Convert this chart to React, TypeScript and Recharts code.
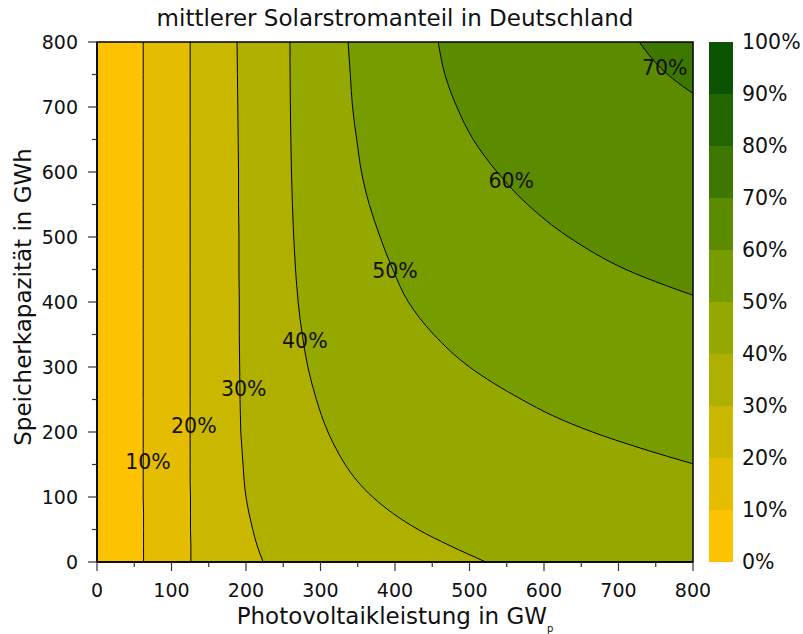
import React from 'react';
import {
  ComposedChart,
  Area,
  XAxis,
  YAxis,
  ReferenceArea,
  ReferenceDot,
  BarChart,
  Bar,
} from 'recharts';

const FONT = '"DejaVu Sans", Verdana, sans-serif';

// storage capacity (GWh) grid along which contour positions (PV GWp) are read
const yLevels = [0, 25, 50, 75, 100, 125, 150, 175, 200, 225, 250, 300, 350, 400, 450, 500, 550, 600, 650, 700, 750, 800];

// contour positions: PV power (GWp) at which the mean solar share reaches the level
const c10 = [62.5, 62.5, 62.5, 62.5, 62, 62, 62, 62, 62, 62, 62, 62, 62, 62, 62, 62, 62, 62, 62, 62, 62, 62];
const c20 = [126, 126, 125.5, 125.5, 125.5, 125, 125, 125, 125, 125, 125, 125, 125, 125, 125, 125, 125, 125, 125, 125, 125, 125];
const c30 = [223, 215, 209, 204, 200, 197.5, 196, 194.5, 193, 192.5, 192, 191.5, 191, 191, 190.5, 190.5, 190, 190, 189.5, 189, 188.5, 188];
const c40 = [522, 474, 431, 397, 370, 349, 333, 320.5, 310, 301.5, 294.5, 283, 275.5, 270, 266.5, 264, 262.3, 261, 260.2, 259.6, 259.2, 259];
const c50 = [1430, 1300, 1180, 1070, 970, 880, 803, 730, 665, 612, 570, 500, 452, 418, 397, 380, 365.5, 355, 348.6, 343, 340, 337];
const c60 = [2060, 1970, 1880, 1790, 1700, 1610, 1530, 1450, 1370, 1295, 1220, 1080, 950, 825, 710, 633, 578, 537, 505, 483, 467, 458];
const c70 = [2810, 2720, 2630, 2540, 2450, 2360, 2270, 2180, 2090, 2005, 1920, 1760, 1610, 1470, 1340, 1220, 1110, 1010, 920, 830, 766, 728];

const levelKeys = ['c70', 'c60', 'c50', 'c40', 'c30', 'c20', 'c10'];
const bandColors = ['#FEC300', '#E5BD00', '#C9B700', '#AFAF00', '#94A800', '#779C00', '#5C8B00', '#3D7700', '#236600', '#0A5300'];

const xTicks = [0, 50, 100, 150, 200, 250, 300, 350, 400, 450, 500, 550, 600, 650, 700, 750, 800];
const yTicks = [0, 50, 100, 150, 200, 250, 300, 350, 400, 450, 500, 550, 600, 650, 700, 750, 800];
const cbTicks = [0, 10, 20, 30, 40, 50, 60, 70, 80, 90, 100];

const contourLabels = [
  { x: 68.5, y: 155, text: '10%' },
  { x: 130, y: 209, text: '20%' },
  { x: 197, y: 266, text: '30%' },
  { x: 279, y: 340, text: '40%' },
  { x: 400, y: 448, text: '50%' },
  { x: 556, y: 586, text: '60%' },
  { x: 762, y: 760, text: '70%' },
];

const data = yLevels.map((y, i) => ({
  y,
  bg: 900,
  c70: c70[i],
  c60: c60[i],
  c50: c50[i],
  c40: c40[i],
  c30: c30[i],
  c20: c20[i],
  c10: c10[i],
}));

const cbData = [
  { name: 'cb', b0: 10, b1: 10, b2: 10, b3: 10, b4: 10, b5: 10, b6: 10, b7: 10, b8: 10, b9: 10 },
];

const XTick = (props: any) => {
  const { x, y, payload } = props;
  const v = payload.value;
  const major = v % 100 === 0;
  return (
    <g>
      <line x1={x} x2={x} y1={y} y2={y + (major ? 9 : 5)} stroke="#333" strokeWidth={1.2} />
      {major && (
        <text x={x} y={y + 35} textAnchor="middle" fontSize={19} fontFamily={FONT} fill="#111">
          {v}
        </text>
      )}
    </g>
  );
};

const YTick = (props: any) => {
  const { x, y, payload } = props;
  const v = payload.value;
  const major = v % 100 === 0;
  return (
    <g>
      <line x1={x - (major ? 9 : 5)} x2={x} y1={y} y2={y} stroke="#333" strokeWidth={1.2} />
      {major && (
        <text x={x - 19} y={y + 7} textAnchor="end" fontSize={19} fontFamily={FONT} fill="#111">
          {v}
        </text>
      )}
    </g>
  );
};

export default function App() {
  return (
    <div style={{ position: 'absolute', left: 0, top: 0, width: 803, height: 634, background: '#fff' }}>
      <svg width={803} height={40} style={{ position: 'absolute', left: 0, top: 0 }}>
        <text x={395} y={26} textAnchor="middle" fontSize={23} fontFamily={FONT} fill="#111">
          mittlerer Solarstromanteil in Deutschland
        </text>
      </svg>
      <svg width={60} height={634} style={{ position: 'absolute', left: 0, top: 0 }}>
        <text
          x={31}
          y={297}
          transform="rotate(-90 31 297)"
          textAnchor="middle"
          fontSize={23}
          fontFamily={FONT}
          fill="#111"
        >
          Speicherkapazität in GWh
        </text>
      </svg>
      <svg width={803} height={40} style={{ position: 'absolute', left: 0, top: 594 }}>
        <text x={395} y={30} textAnchor="middle" fontSize={23} fontFamily={FONT} fill="#111">
          Photovoltaikleistung in GW
          <tspan fontSize={10} dy={8}>p</tspan>
        </text>
      </svg>
      <div style={{ position: 'absolute', left: 0, top: 0 }}>
        <ComposedChart
          width={803}
          height={634}
          layout="vertical"
          data={data}
          margin={{ top: 42, right: 110, bottom: 42, left: 37 }}
        >
          <XAxis
            type="number"
            domain={[0, 800]}
            allowDataOverflow
            ticks={xTicks}
            interval={0}
            tickSize={0}
            tickMargin={0}
            tickLine={false}
            tick={<XTick />}
            height={30}
            axisLine={{ stroke: '#000', strokeWidth: 1.5 }}
          />
          <YAxis
            type="number"
            dataKey="y"
            domain={[0, 800]}
            allowDataOverflow
            reversed
            ticks={yTicks}
            interval={0}
            tickSize={0}
            tickMargin={0}
            tickLine={false}
            tick={<YTick />}
            width={60}
            axisLine={{ stroke: '#000', strokeWidth: 1.5 }}
          />
          <Area
            dataKey="bg"
            type="monotone"
            fill={bandColors[7]}
            fillOpacity={1}
            stroke="none"
            isAnimationActive={false}
            dot={false}
            activeDot={false}
          />
          {levelKeys.map((k, i) => (
            <Area
              key={k}
              dataKey={k}
              type="monotone"
              fill={bandColors[6 - i]}
              fillOpacity={1}
              stroke="#000"
              strokeWidth={1}
              isAnimationActive={false}
              dot={false}
              activeDot={false}
            />
          ))}
          <ReferenceArea x1={0} x2={800} y1={0} y2={800} fill="none" stroke="#000" strokeWidth={1.5} />
          {contourLabels.map((l) => (
            <ReferenceDot
              key={l.text}
              x={l.x}
              y={l.y}
              r={0}
              fill="none"
              stroke="none"
              label={{ value: l.text, position: 'center', fill: '#111', fontSize: 20.5, fontFamily: FONT }}
            />
          ))}
        </ComposedChart>
      </div>
      <div style={{ position: 'absolute', left: 709, top: 0 }}>
        <BarChart
          width={94}
          height={634}
          data={cbData}
          margin={{ top: 42, right: 0, bottom: 72, left: 0 }}
          barCategoryGap={0}
          barGap={0}
        >
          <XAxis dataKey="name" hide />
          <YAxis
            orientation="right"
            type="number"
            domain={[0, 100]}
            ticks={cbTicks}
            interval={0}
            width={70}
            tickSize={0}
            tickMargin={9}
            tickLine={false}
            axisLine={false}
            tickFormatter={(v: number) => `${v}%`}
            tick={{ fill: '#111', fontSize: 20.5, fontFamily: FONT }}
          />
          {bandColors.map((c, i) => (
            <Bar key={i} dataKey={`b${i}`} stackId="a" fill={c} isAnimationActive={false} />
          ))}
        </BarChart>
      </div>
    </div>
  );
}
